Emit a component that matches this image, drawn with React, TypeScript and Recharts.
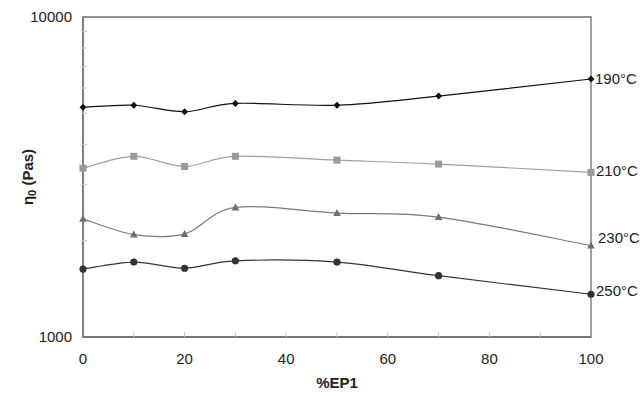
import { LineChart, Line, XAxis, YAxis, ReferenceArea, LabelList } from 'recharts';

// %EP1 content and zero-shear viscosity per temperature
const epContent = [0, 10, 20, 30, 50, 70, 100];
const eta190 = [5220, 5300, 5060, 5370, 5300, 5660, 6400];
const eta210 = [3370, 3670, 3410, 3670, 3570, 3470, 3270];
const eta230 = [2340, 2090, 2100, 2540, 2440, 2370, 1930];
const eta250 = [1630, 1715, 1640, 1730, 1715, 1555, 1360];
const tempLabels = ['190°C', '210°C', '230°C', '250°C'];

const xTicks = [0, 10, 20, 30, 40, 50, 60, 70, 80, 90, 100];
const xLabelTicks = [0, 20, 40, 60, 80, 100];
const yTicks = [1000, 2000, 3000, 4000, 5000, 6000, 7000, 8000, 9000, 10000];
const yLabelTicks = [1000, 10000];

const data = epContent.map((ep, i) => ({
  ep,
  t190: eta190[i],
  t210: eta210[i],
  t230: eta230[i],
  t250: eta250[i],
}));

const FONT = '"Liberation Sans", Arial, sans-serif';
const AXIS = '#6e6e6e';

// smoothed line like the spreadsheet "smoothed line" option
const smoothCurve = (ctx: any) => {
  let pts: number[][] = [];
  return {
    areaStart() {},
    areaEnd() {},
    lineStart() {
      pts = [];
    },
    lineEnd() {
      if (!pts.length) return;
      ctx.moveTo(pts[0][0], pts[0][1]);
      for (let i = 0; i < pts.length - 1; i++) {
        const p0 = pts[Math.max(i - 1, 0)];
        const p1 = pts[i];
        const p2 = pts[i + 1];
        const p3 = pts[Math.min(i + 2, pts.length - 1)];
        const t = 1 / 6;
        ctx.bezierCurveTo(
          p1[0] + (p2[0] - p0[0]) * t,
          p1[1] + (p2[1] - p0[1]) * t,
          p2[0] - (p3[0] - p1[0]) * t,
          p2[1] - (p3[1] - p1[1]) * t,
          p2[0],
          p2[1]
        );
      }
    },
    point(x: number, y: number) {
      pts.push([+x, +y]);
    },
  };
};

const makeDot = (shape: string, color: string) => (props: any) => {
  const { cx, cy, index } = props;
  const k = `d${shape}${index}`;
  if (cx == null || cy == null) return <g key={k} />;
  if (shape === 'diamond') {
    const r = 3.5;
    return (
      <path key={k} d={`M${cx},${cy - r}L${cx + r},${cy}L${cx},${cy + r}L${cx - r},${cy}Z`} fill={color} />
    );
  }
  if (shape === 'square') {
    return <rect key={k} x={cx - 3.5} y={cy - 3.5} width={7} height={7} fill={color} />;
  }
  if (shape === 'triangle') {
    return (
      <path key={k} d={`M${cx},${cy - 4}L${cx + 3.8},${cy + 3}L${cx - 3.8},${cy + 3}Z`} fill={color} />
    );
  }
  return <circle key={k} cx={cx} cy={cy} r={3.6} fill={color} />;
};

const makeEndLabel = (text: string, dx: number, dy: number) => (props: any) => {
  const { x, y, index } = props;
  if (index !== epContent.length - 1) return null;
  return (
    <text
      x={x + dx}
      y={y + dy}
      dy="0.36em"
      fontSize={15}
      fontFamily={FONT}
      fill="#222"
    >
      {text}
    </text>
  );
};

const XTick = (props: any) => {
  const { x, y, payload } = props;
  const v = payload.value;
  return (
    <g>
      {v > 0 && v < 100 && (
        <line x1={x} x2={x} y1={y - 16} y2={y - 21} stroke="#c8c8c8" />
      )}
      {xLabelTicks.includes(v) && (
        <text x={x} y={y} dy="0.71em" textAnchor="middle" fontSize={15} fontFamily={FONT} fill="#222">
          {v}
        </text>
      )}
    </g>
  );
};

const YTick = (props: any) => {
  const { x, y, payload } = props;
  const v = payload.value;
  return (
    <g>
      {v > 1000 && v < 10000 && (
        <line x1={x + 9} x2={x + 15} y1={y} y2={y} stroke="#c8c8c8" />
      )}
      {yLabelTicks.includes(v) && (
        <text x={x} y={y} dy="0.36em" textAnchor="end" fontSize={15} fontFamily={FONT} fill="#222">
          {v}
        </text>
      )}
    </g>
  );
};

export default function App() {
  return (
    <div style={{ position: 'absolute', left: 0, top: 0, background: '#fff' }}>
      <LineChart
        width={642}
        height={395}
        data={data}
        margin={{ top: 17, right: 51, bottom: 0, left: 23 }}
      >
        <XAxis
          dataKey="ep"
          type="number"
          domain={[0, 100]}
          ticks={xTicks}
          interval={0}
          height={58}
          tickSize={0}
          tickMargin={16}
          tick={<XTick />}
          axisLine={{ stroke: AXIS, strokeWidth: 1.3 }}
          tickLine={false}
          label={{
            content: () => (
              <text x={337} y={383} dy="0.36em" textAnchor="middle" fontSize={15} fontWeight="bold" fontFamily={FONT} fill="#222">
                %EP1
              </text>
            ),
          }}
        />
        <YAxis
          type="number"
          scale="log"
          domain={[1000, 10000]}
          allowDataOverflow
          ticks={yTicks}
          interval={0}
          width={60}
          tickSize={0}
          tickMargin={11}
          tick={<YTick />}
          axisLine={{ stroke: AXIS, strokeWidth: 1.3 }}
          tickLine={false}
          label={{
            content: () => (
              <text
                x={28}
                y={177}
                transform="rotate(-90 28 177)"
                textAnchor="middle"
                dy="0.36em"
                fontSize={15}
                fontWeight="bold"
                fontFamily={FONT}
                fill="#222"
              >
                η<tspan fontSize={11} dy="3">0</tspan>
                <tspan dy="-3"> (Pas)</tspan>
              </text>
            ),
          }}
        />
        <ReferenceArea
          x1={0}
          x2={100}
          y1={1000}
          y2={10000}
          fill="none"
          stroke={AXIS}
          strokeWidth={1.3}
          ifOverflow="visible"
        />
        <Line
          dataKey="t190"
          type={smoothCurve as any}
          stroke="#111"
          strokeWidth={1.2}
          dot={makeDot('diamond', '#111')}
          isAnimationActive={false}
        >
          <LabelList dataKey="t190" content={makeEndLabel(tempLabels[0], 4, 0)} />
        </Line>
        <Line
          dataKey="t210"
          type={smoothCurve as any}
          stroke="#a0a0a0"
          strokeWidth={1.2}
          dot={makeDot('square', '#9a9a9a')}
          isAnimationActive={false}
        >
          <LabelList dataKey="t210" content={makeEndLabel(tempLabels[1], 5, -2)} />
        </Line>
        <Line
          dataKey="t230"
          type={smoothCurve as any}
          stroke="#7a7a7a"
          strokeWidth={1.2}
          dot={makeDot('triangle', '#6e6e6e')}
          isAnimationActive={false}
        >
          <LabelList dataKey="t230" content={makeEndLabel(tempLabels[2], 7, -8)} />
        </Line>
        <Line
          dataKey="t250"
          type={smoothCurve as any}
          stroke="#333"
          strokeWidth={1.2}
          dot={makeDot('circle', '#333')}
          isAnimationActive={false}
        >
          <LabelList dataKey="t250" content={makeEndLabel(tempLabels[3], 5, -4)} />
        </Line>
      </LineChart>
    </div>
  );
}
